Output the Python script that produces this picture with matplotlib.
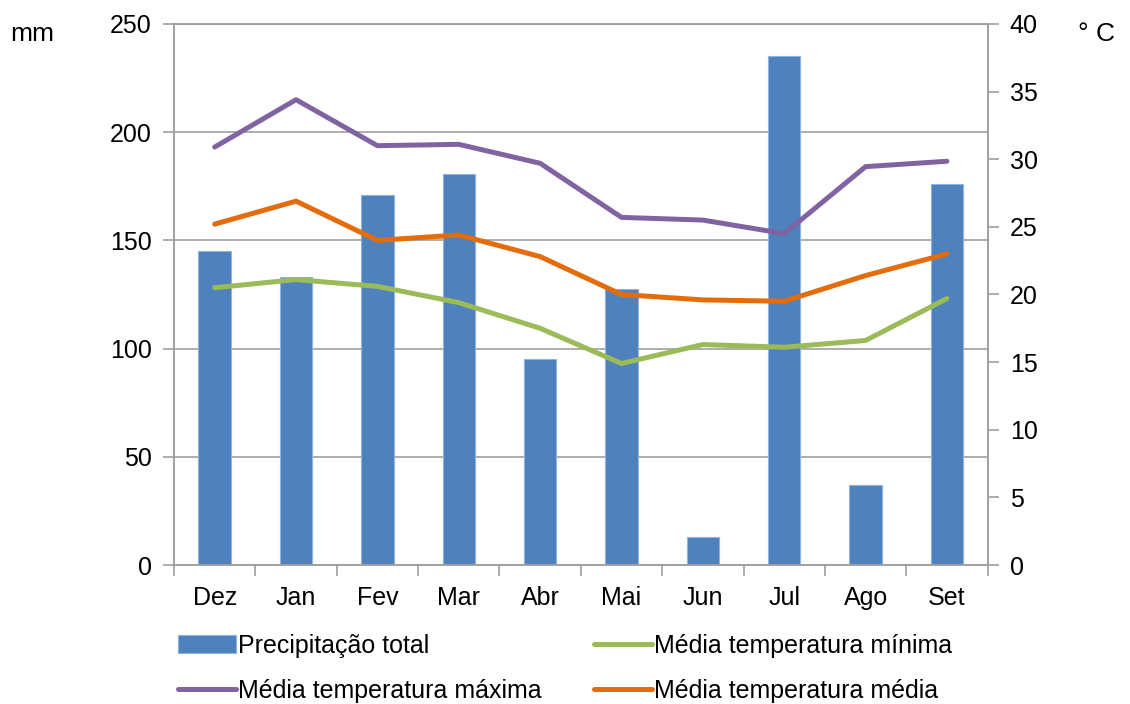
import matplotlib.pyplot as plt
import numpy as np

plt.rcParams['font.family'] = ['Liberation Sans', 'DejaVu Sans']

# dados
meses = ["Dez", "Jan", "Fev", "Mar", "Abr", "Mai", "Jun", "Jul", "Ago", "Set"]
precipitacao = [145, 133, 171, 180.5, 95, 127.5, 13, 235, 37, 176]
temp_max = [30.9, 34.4, 31.0, 31.1, 29.7, 25.7, 25.5, 24.5, 29.45, 29.85]
temp_media = [25.2, 26.9, 24.0, 24.4, 22.8, 20.0, 19.6, 19.5, 21.4, 23.0]
temp_min = [20.5, 21.1, 20.6, 19.4, 17.5, 14.9, 16.3, 16.1, 16.6, 19.7]

cinza = "#A0A0A0"
fs = 18

fig = plt.figure(figsize=(11.3, 7.04), dpi=100)
ax = fig.add_axes([0.154, 0.1974, 0.72, 0.7686])
x = np.arange(len(meses))

barras = ax.bar(x, precipitacao, width=0.4, color="#4F81BD", edgecolor="#8EB4E3",
                linewidth=0.8, zorder=2, label="Precipitação total")
ax.set_ylim(0, 250)
ax.set_xlim(-0.5, len(meses) - 0.5)
ax.set_yticks(range(0, 251, 50))
ax.yaxis.grid(True, color=cinza, linewidth=1.2, zorder=0)
ax.set_axisbelow(True)

# ticks do eixo x nas fronteiras das categorias
ax.set_xticks(np.arange(-0.5, len(meses), 1.0))
ax.set_xticklabels([])
ax.set_xticks(x, minor=True)
ax.set_xticklabels(meses, minor=True)
ax.tick_params(axis="x", which="major", length=8, color=cinza, width=1.2)
ax.tick_params(axis="x", which="minor", length=0, pad=15, labelsize=fs)
ax.tick_params(axis="y", length=8, color=cinza, width=1.2, labelsize=fs, pad=8)

for s in ["left", "bottom", "top", "right"]:
    ax.spines[s].set_color(cinza)
    ax.spines[s].set_linewidth(1.2)

ax2 = ax.twinx()
l_max, = ax2.plot(x, temp_max, color="#8064A2", linewidth=3.6, solid_capstyle="round",
                  label="Média temperatura máxima")
l_min, = ax2.plot(x, temp_min, color="#9BBB59", linewidth=3.6, solid_capstyle="round",
                  label="Média temperatura mínima")
l_med, = ax2.plot(x, temp_media, color="#E46C0A", linewidth=3.6, solid_capstyle="round",
                  label="Média temperatura média")
ax2.set_ylim(0, 40)
ax2.set_yticks(range(0, 41, 5))
ax2.tick_params(axis="y", length=8, color=cinza, width=1.2, labelsize=fs, pad=8)
for s in ["left", "bottom", "top", "right"]:
    ax2.spines[s].set_color(cinza)
    ax2.spines[s].set_linewidth(1.2)

fig.text(10 / 1130, 1 - 34 / 704, "mm", fontsize=fs + 1, va="center", ha="left")
fig.text(1078 / 1130, 1 - 34 / 704, "° C", fontsize=fs + 1, va="center", ha="left")

fig.legend([barras, l_max, l_min, l_med],
           ["Precipitação total", "Média temperatura máxima",
            "Média temperatura mínima", "Média temperatura média"],
           ncol=2, loc="lower left", bbox_to_anchor=(168 / 1130, -0.013),
           frameon=False, fontsize=fs, handlelength=2.3, handletextpad=0.1,
           columnspacing=2.1, labelspacing=0.85, borderaxespad=0)

fig.savefig("out.png", dpi=100)
